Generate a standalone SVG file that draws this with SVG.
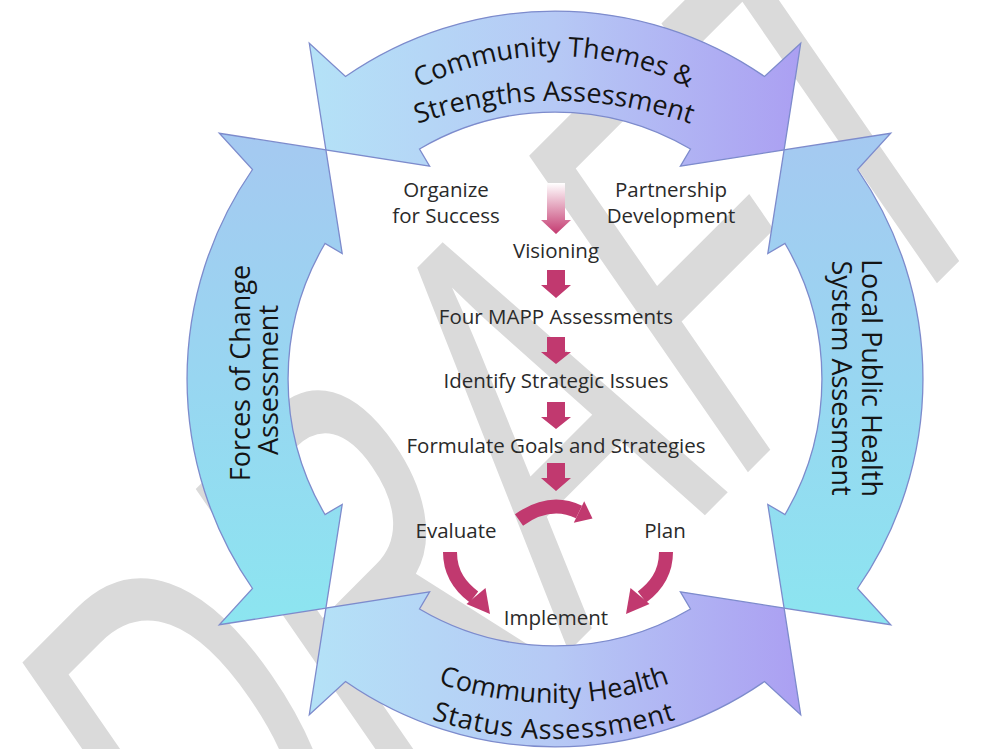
<svg xmlns="http://www.w3.org/2000/svg" width="981" height="749" viewBox="0 0 981 749">
<defs>
<style>
.ring{stroke:#7d8bcc;stroke-width:1.3;stroke-linejoin:miter}
.lbl{font-family:"Open Sans","Liberation Sans",sans-serif;font-size:27px;fill:#141414}
.step{font-family:"Open Sans","Liberation Sans",sans-serif;font-size:20.5px;fill:#2a2a2a;text-anchor:middle}
.pk{fill:#c1396f}
.pks{fill:none;stroke:#c1396f;stroke-width:14}
.wm{font-family:"Liberation Sans",Arial,sans-serif;font-weight:normal;font-size:100px;fill:#dadada}
</style>
<linearGradient id="gH" gradientUnits="userSpaceOnUse" x1="309" y1="0" x2="801" y2="0">
<stop offset="0" stop-color="#b4e2f7"/><stop offset="0.5" stop-color="#b6c9f5"/><stop offset="1" stop-color="#ab9ff2"/>
</linearGradient>
<linearGradient id="gV" gradientUnits="userSpaceOnUse" x1="0" y1="133" x2="0" y2="625">
<stop offset="0" stop-color="#a5c9f1"/><stop offset="0.5" stop-color="#98d6f1"/><stop offset="1" stop-color="#8ce5f0"/>
</linearGradient>
<linearGradient id="gD" x1="0" y1="0" x2="0" y2="1">
<stop offset="0" stop-color="#ffffff"/><stop offset="1" stop-color="#c43a70"/>
</linearGradient>
<path id="tp1" d="M254,356 A300,300 0 0 1 854,356"/>
<path id="tp2" d="M134,521 A420,420 0 0 1 974,521"/>
<path id="bp1" d="M204,353 A350,350 0 0 0 904,353"/>
<path id="bp2" d="M164,349 A390,390 0 0 0 944,349"/>
</defs>
<rect width="981" height="749" fill="#ffffff"/>
<g id="watermark">
<text class="wm" transform="matrix(2.4,-2.4,3.18,4.6,221.5,998.6)">DRAFT</text>
</g>
<g id="community-themes">
<path class="ring" fill="url(#gH)" d="M345.5,76.5 A368,368 0 0 1 764.5,76.5 L800.7,43.3 L784.1,149.9 L680.4,166.2 L690.5,149.0 A267,267 0 0 0 419.5,149.0 L429.6,166.2 L325.9,149.9 L309.3,43.3 Z"/>
<text class="lbl"><textPath href="#tp1" startOffset="50%" text-anchor="middle">Community Themes &amp;</textPath></text>
<text class="lbl"><textPath href="#tp2" startOffset="50%" text-anchor="middle">Strengths Assessment</textPath></text>
</g>
<g id="local-public-health">
<path class="ring" fill="url(#gV)" d="M857.5,169.5 A368,368 0 0 1 857.5,588.5 L890.7,624.7 L784.1,608.1 L767.8,504.4 L785.0,514.5 A267,267 0 0 0 785.0,243.5 L767.8,253.6 L784.1,149.9 L890.7,133.3 Z"/>
<text class="lbl" text-anchor="middle" font-size="28.5" transform="translate(862,378) rotate(90)">Local Public Health</text>
<text class="lbl" text-anchor="middle" transform="translate(832,378) rotate(90)">System Assesment</text>
</g>
<g id="community-health">
<path class="ring" fill="url(#gH)" d="M345.5,681.5 A368,368 0 0 0 764.5,681.5 L800.7,714.7 L784.1,608.1 L680.4,591.8 L690.5,609.0 A267,267 0 0 1 419.5,609.0 L429.6,591.8 L325.9,608.1 L309.3,714.7 Z"/>
<text class="lbl"><textPath href="#bp1" startOffset="50%" text-anchor="middle">Community Health</textPath></text>
<text class="lbl" font-size="28" letter-spacing="0.8"><textPath href="#bp2" startOffset="50%" text-anchor="middle">Status Assessment</textPath></text>
</g>
<g id="forces-of-change">
<path class="ring" fill="url(#gV)" d="M252.5,169.5 A368,368 0 0 0 252.5,588.5 L219.3,624.7 L325.9,608.1 L342.2,504.4 L325.0,514.5 A267,267 0 0 1 325.0,243.5 L342.2,253.6 L325.9,149.9 L219.3,133.3 Z"/>
<text class="lbl" text-anchor="middle" transform="translate(250,373) rotate(-90)">Forces of Change</text>
<text class="lbl" text-anchor="middle" transform="translate(278,380) rotate(-90)">Assessment</text>
</g>
<g id="organize"><text class="step" x="446" y="197">Organize</text><text class="step" x="446" y="223">for Success</text></g>
<g id="partnership"><text class="step" x="671" y="197">Partnership</text><text class="step" x="671" y="223">Development</text></g>
<g id="visioning"><text class="step" x="556" y="258">Visioning</text></g>
<g id="four-mapp"><text class="step" x="556" y="324">Four MAPP Assessments</text></g>
<g id="strategic-issues"><text class="step" x="556" y="388">Identify Strategic Issues</text></g>
<g id="goals"><text class="step" x="556" y="453">Formulate Goals and Strategies</text></g>
<g id="evaluate"><text class="step" x="456" y="538">Evaluate</text></g>
<g id="plan"><text class="step" x="665" y="538">Plan</text></g>
<g id="implement"><text class="step" x="556" y="625">Implement</text></g>
<g id="connectors">
<path fill="url(#gD)" d="M547,183 H565 V220 H571 L556,234 L541,220 H547 Z"/>
<path class="pk" d="M547,270 H565 V285 H571 L556,298 L541,285 H547 Z"/>
<path class="pk" d="M547,337 H565 V352 H571 L556,364 L541,352 H547 Z"/>
<path class="pk" d="M547,402 H565 V417 H571 L556,429 L541,417 H547 Z"/>
<path class="pk" d="M547,463 H565 V478 H571 L556,491 L541,478 H547 Z"/>
<path class="pks" d="M519,520 Q550,498 579,512"/>
<polygon class="pk" points="573.8,522.8 584.2,501.2 592.5,518.5"/>
<path class="pks" d="M450,552 C450,575 462,588 474,597"/>
<polygon class="pk" points="466.5,604 485.5,588 490,614"/>
<path class="pks" d="M666,552 C666,575 654,588 642,597"/>
<polygon class="pk" points="649.5,604 630.5,588 626,614"/>
</g>
</svg>
